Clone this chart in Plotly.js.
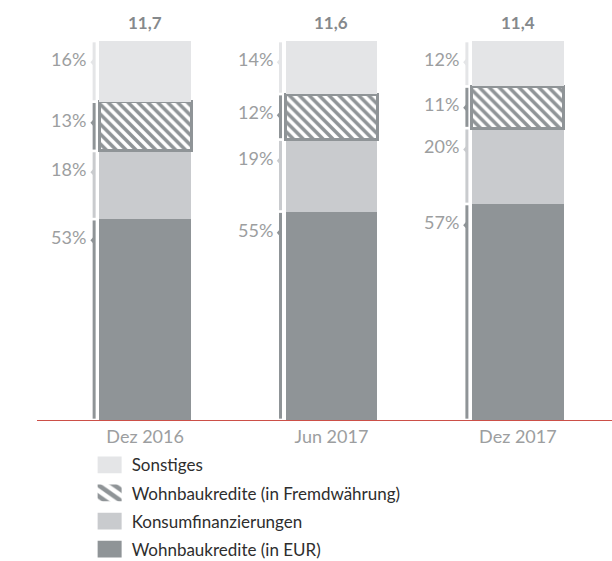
<!DOCTYPE html>
<html>
<head>
<meta charset="utf-8">
<script src="https://cdn.plot.ly/plotly-3.0.1.min.js"></script>
<style>html,body{margin:0;padding:0;background:#fff;}#chart{width:612px;height:561px;}</style>
</head>
<body>
<div id="chart"></div>
<script>
// ---- data ----
const categories = ['Dez 2016', 'Jun 2017', 'Dez 2017'];
const totals = ['11,7', '11,6', '11,4'];
const wohnbauEUR = [53, 55, 57];
const konsum = [18, 19, 20];
const wohnbauFremd = [13, 12, 11];
const sonstiges = [16, 14, 12];
const seriesNames = ['Wohnbaukredite (in EUR)', 'Konsumfinanzierungen', 'Wohnbaukredite (in Fremdwährung)', 'Sonstiges'];

// ---- styles ----
const FONT = 'Lato, "Open Sans", sans-serif';
const C_EUR = '#8f9497', C_KON = '#c9cbce', C_FREMD = '#8f9497', C_SON = '#e4e5e7';
const LABEL_COL = '#9c9ea0';
const BAR_W = 0.493;
const BRACKET_OFF = 0.2735;

const seriesVals = [wohnbauEUR, konsum, wohnbauFremd, sonstiges];
const seriesCols = [C_EUR, C_KON, C_FREMD, C_SON];

const traces = seriesVals.map((vals, k) => {
  const t = {
    type: 'bar', x: categories, y: vals, name: seriesNames[k],
    width: BAR_W, hoverinfo: 'skip', legendgroup: 'g' + k, legendrank: 4 - k,
    marker: {color: seriesCols[k], line: {width: 0}}
  };
  if (k === 2) {
    t.marker = {
      color: '#ffffff',
      line: {color: C_FREMD, width: 3},
      pattern: {shape: '\\', fgcolor: C_FREMD, bgcolor: '#ffffff', size: 7, solidity: 0.5, fillmode: 'replace'}
    };
  }
  return t;
});

const shapes = [];
const annotations = [];
categories.forEach((c, i) => {
  let base = 0;
  const bx = i - BRACKET_OFF;
  seriesVals.forEach((vals, k) => {
    const top = base + vals[i];
    shapes.push({type: 'line', xref: 'x', yref: 'y', x0: bx, x1: bx, y0: base + 0.35, y1: top - 0.35,
      line: {color: seriesCols[k], width: 3}, layer: 'above'});
    const py = top - 5.6;
    shapes.push({type: 'path', xref: 'x', yref: 'y',
      path: `M ${bx} ${py + 1.1} L ${bx - 0.02} ${py} L ${bx} ${py - 1.1} Z`,
      fillcolor: seriesCols[k], line: {width: 0}, layer: 'above'});
    annotations.push({x: bx, y: top, xref: 'x', yref: 'y', text: vals[i] + '%', showarrow: false,
      xanchor: 'right', yanchor: 'middle', xshift: -6, yshift: -18,
      font: {family: FONT, size: 18, color: LABEL_COL}});
    base = top;
  });
  annotations.push({x: i, y: base, xref: 'x', yref: 'y', text: totals[i], showarrow: false,
    xanchor: 'center', yanchor: 'bottom', yshift: 6,
    font: {family: FONT, size: 17, color: '#85898c', weight: 'bold'}});
});

const layout = {
  width: 612, height: 561,
  margin: {l: 37, r: 0, t: 41, b: 141, autoexpand: false},
  paper_bgcolor: '#ffffff', plot_bgcolor: '#ffffff',
  barmode: 'stack',
  font: {family: FONT, color: LABEL_COL},
  xaxis: {type: 'category', range: [-0.58, 2.505], showgrid: false, zeroline: false,
    showline: true, linecolor: '#cc4f48', linewidth: 1, ticks: '',
    tickfont: {family: FONT, size: 18, color: LABEL_COL}, fixedrange: true},
  yaxis: {range: [0, 100], visible: false, fixedrange: true},
  showlegend: true,
  legend: {orientation: 'v', x: 0.095, y: -0.072, xanchor: 'left', yanchor: 'top',
    traceorder: 'grouped', tracegroupgap: 3, maxheight: 200,
    font: {family: FONT, size: 17, color: '#2e2e2e'}, bgcolor: 'rgba(0,0,0,0)'},
  shapes: shapes,
  annotations: annotations
};

Plotly.newPlot('chart', traces, layout, {displayModeBar: false, staticPlot: true}).then(gd => {
  // enlarge legend swatches to match the reference
  gd.querySelectorAll('.legend .legendpoints path').forEach(p => {
    p.setAttribute('transform', 'translate(18,0) scale(2,1.4)');
    p.style.strokeWidth = '0';
  });
});
</script>
</body>
</html>
